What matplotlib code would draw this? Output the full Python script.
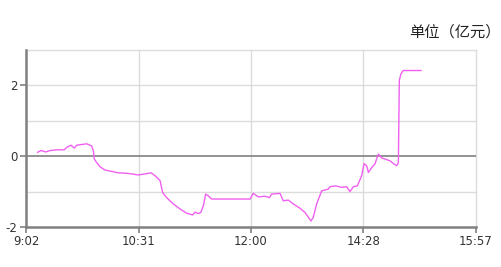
import matplotlib.pyplot as plt
import numpy as np

# minute index from open (0..240), value in 亿元
t = [6.2, 8.0, 10.5, 12.8, 16.4, 20.4, 21.7, 24.0, 25.8, 27.0, 29.7, 32.4,
     35.0, 35.9, 36.4, 37.7, 39.5, 42.1, 45.7, 49.2, 52.8, 56.4, 59.9, 63.5,
     66.7, 68.8, 71.5, 72.9, 75.0, 78.6, 82.1, 85.7, 88.9, 90.1, 91.9, 93.2,
     94.6, 95.8, 97.2, 99.0, 119.5, 121.2, 123.9, 127.5, 129.8, 131.0, 135.5,
     137.2, 139.9, 142.6, 146.1, 148.8, 152.0, 153.2, 155.0, 157.7, 161.2,
     162.1, 165.3, 168.4, 171.0, 172.8, 174.6, 176.7, 179.0, 180.3, 181.7,
     182.6, 184.4, 186.1, 187.9, 189.7, 191.5, 194.1, 196.3, 197.7, 198.6,
     199.1, 200.0, 201.2, 210.7]
flow = [0.11, 0.16, 0.12, 0.16, 0.18, 0.18, 0.25, 0.31, 0.23, 0.31, 0.33, 0.35,
        0.29, 0.16, -0.08, -0.18, -0.30, -0.39, -0.43, -0.47, -0.48, -0.50,
        -0.53, -0.50, -0.47, -0.55, -0.69, -1.03, -1.17, -1.35, -1.49, -1.61,
        -1.66, -1.58, -1.62, -1.59, -1.40, -1.07, -1.12, -1.21, -1.21, -1.05,
        -1.15, -1.13, -1.17, -1.07, -1.05, -1.26, -1.24, -1.35, -1.47, -1.59,
        -1.83, -1.73, -1.35, -0.98, -0.93, -0.86, -0.84, -0.88, -0.86, -1.00,
        -0.86, -0.84, -0.55, -0.21, -0.27, -0.46, -0.32, -0.22, 0.06, -0.05,
        -0.08, -0.13, -0.22, -0.27, -0.18, 2.14, 2.33, 2.42, 2.42]

xtick_pos = [0, 60, 120, 180, 240]
xtick_labels = ["9:02", "10:31", "12:00", "14:28", "15:57"]
ytick_major = [-2, 0, 2]
ygrid = [-1, 1, 3]

fig = plt.figure(figsize=(5.02, 2.67), dpi=100)
ax = fig.add_axes([0.0518, 0.1498, 0.8964, 0.663])

ax.set_xlim(0, 240)
ax.set_ylim(-2, 3)

for y in ygrid + [2]:
    ax.axhline(y, color="#dcdcdc", lw=1, zorder=0, clip_on=False)
for x in xtick_pos[1:]:
    ax.axvline(x, color="#dcdcdc", lw=1, zorder=0, clip_on=False)
ax.axhline(0, color="#808080", lw=1.2, zorder=1)

ax.plot(t, flow, color="#f060f0", lw=1.0, zorder=3)

ax.set_xticks(xtick_pos)
ax.set_xticklabels(xtick_labels)
ax.set_yticks(ytick_major)
ax.set_yticklabels([str(v) for v in ytick_major])
ax.tick_params(axis="both", colors="#808080", labelcolor="#333333",
               labelsize=8.5, length=4, width=1.2, pad=2)

for side in ["top", "right"]:
    ax.spines[side].set_visible(False)
for side in ["left", "bottom"]:
    ax.spines[side].set_color("#808080")
    ax.spines[side].set_linewidth(1.8)

fig.text(0.997, 0.88, "单位（亿元）", ha="right", va="center", fontsize=11,
         family=["Noto Sans CJK SC", "DejaVu Sans"], color="#222222")

fig.savefig("out.png", dpi=100)
